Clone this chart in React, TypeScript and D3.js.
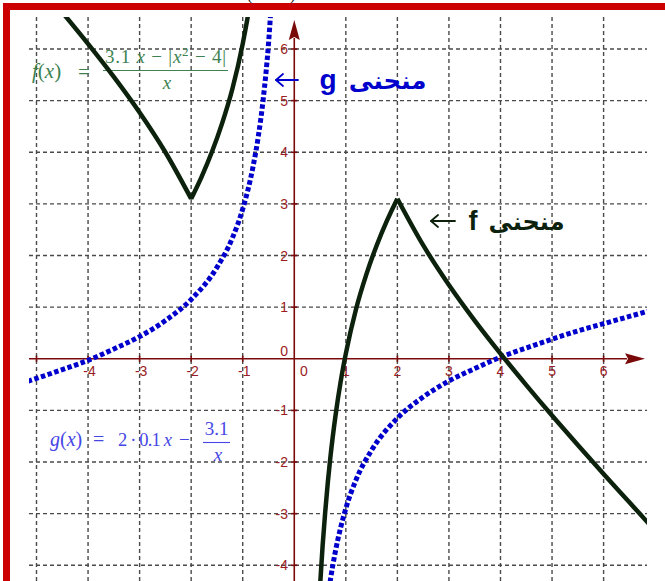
import * as d3 from "d3";

// tick values
const xTicks = [-5, -4, -3, -2, -1, 1, 2, 3, 4, 5, 6];
const yTicks = [-4, -3, -2, -1, 1, 2, 3, 4, 5, 6];
const xLabels = [-4, -3, -2, -1, 1, 2, 3, 4, 5, 6];
const yLabels = [-4, -3, -2, -1, 1, 2, 3, 4, 5, 6];

// f(x) = (3.1x - |x^2-4|)/x, split at the corners
const fLeftOuter = [[-4.5, 6.71], [-4, 6.1], [-3.5, 5.46], [-3, 4.77], [-2.5, 4.0], [-2, 3.1]];
const fLeftInner = [[-2, 3.1], [-1.8, 3.52], [-1.6, 4.0], [-1.4, 4.56], [-1.2, 5.23], [-1.0, 6.1], [-0.95, 6.36], [-0.9, 6.64], [-0.8, 7.3]];
const fRightInner = [[0.45, -5.34], [0.5, -4.4], [0.55, -3.62], [0.6, -2.97], [0.65, -2.4], [0.7, -1.91], [0.8, -1.1], [0.9, -0.44], [1.0, 0.1], [1.2, 0.97], [1.4, 1.64], [1.6, 2.2], [1.8, 2.68], [2, 3.1]];
const fRightOuter = [[2, 3.1], [2.5, 2.2], [3, 1.43], [3.5, 0.74], [4, 0.1], [4.5, -0.51], [5, -1.1], [5.5, -1.67], [6, -2.23], [6.5, -2.78], [6.9, -3.22]];

// g(x) = 0.2x - 3.1/x
const gLeft = [[-5.3, -0.48], [-4.5, -0.21], [-4, -0.03], [-3.5, 0.19], [-3, 0.43], [-2.5, 0.74], [-2, 1.15], [-1.5, 1.77], [-1.2, 2.34], [-1, 2.9], [-0.8, 3.72], [-0.7, 4.29], [-0.6, 5.05], [-0.5, 6.1], [-0.42, 7.3]];
const gRight = [[0.42, -7.3], [0.5, -6.1], [0.6, -5.05], [0.7, -4.29], [0.8, -3.72], [1, -2.9], [1.2, -2.34], [1.5, -1.77], [2, -1.15], [2.5, -0.74], [3, -0.43], [3.5, -0.19], [4, 0.03], [4.5, 0.21], [5, 0.38], [5.5, 0.54], [6, 0.68], [6.5, 0.82], [7, 0.96]];

const W = 665;
const H = 581;
const plot = { left: 29, right: 647, top: 17, bottom: 581 };

const x = d3.scaleLinear().domain([-5, 6]).range([36.5, 603.6]);
const y = d3.scaleLinear().domain([-4, 6]).range([565.3, 49]);

const line = d3
  .line<number[]>()
  .x((d) => x(d[0]))
  .y((d) => y(d[1]))
  .curve(d3.curveMonotoneX);

const axisColor = "#7a0a0a";
const labelColor = "#9b1c24";
const gridColor = "#4a4a4a";
const fColor = "#0c220c";
const gColor = "#0000cc";

// thin left-pointing arrow used next to the curve names
function LeftArrow({ x1, x2, yy, color }: { x1: number; x2: number; yy: number; color: string }) {
  return (
    <g stroke={color} strokeWidth={1.8} fill="none" strokeLinecap="round" strokeLinejoin="round">
      <line x1={x1} x2={x2} y1={yy} y2={yy} />
      <polyline points={`${x1 + 7},${yy - 6} ${x1},${yy} ${x1 + 7},${yy + 6}`} />
    </g>
  );
}

export default function App() {
  const x0 = x(0);
  const y0 = y(0);
  const serif = "'Liberation Serif', 'DejaVu Serif', serif";
  const sans = "'Liberation Sans', Arial, sans-serif";
  const arab = "'DejaVu Sans', sans-serif";

  return (
    <svg
      width={W}
      height={H}
      style={{ position: "absolute", left: 0, top: 0, display: "block", background: "#fff" }}
    >
      <defs>
        <clipPath id="plotClip">
          <rect x={plot.left} y={plot.top} width={plot.right - plot.left} height={plot.bottom - plot.top} />
        </clipPath>
      </defs>

      {/* bits of the caption above the frame */}
      <text x={247} y={0} fontFamily={serif} fontSize={16} fill="#111">(</text>
      <text x={290} y={0} fontFamily={serif} fontSize={16} fill="#111">)</text>

      {/* grid */}
      <g stroke={gridColor} strokeWidth={1.4} strokeDasharray="4,3" fill="none">
        {xTicks.map((t) => (
          <line key={"gx" + t} x1={x(t)} x2={x(t)} y1={plot.top} y2={plot.bottom} />
        ))}
        {yTicks.map((t) => (
          <line key={"gy" + t} x1={plot.left} x2={plot.right} y1={y(t)} y2={y(t)} />
        ))}
      </g>

      {/* formula f */}
      <g fill="#3d8250" fontFamily={serif}>
        <text x={32} y={78} fontSize={21}>
          <tspan fontStyle="italic">f</tspan>(<tspan fontStyle="italic">x</tspan>)
        </text>
        <text x={78} y={79} fontSize={21}>=</text>
        <text x={105} y={63} fontSize={19} textLength={121} lengthAdjust="spacing">
          3.1 <tspan fontStyle="italic">x</tspan> − |<tspan fontStyle="italic">x</tspan>
          <tspan fontSize={13} dy={-7}>2</tspan>
          <tspan dy={7}> − 4|</tspan>
        </text>
        <line x1={103} x2={228} y1={70.5} y2={70.5} stroke="#3d8250" strokeWidth={1.1} />
        <text x={167} y={89} fontSize={19} fontStyle="italic" textAnchor="middle">x</text>
      </g>

      {/* formula g */}
      <g fill="#4646e6" fontFamily={serif}>
        <text x={50} y={446} fontSize={20}>
          <tspan fontStyle="italic">g</tspan>(<tspan fontStyle="italic">x</tspan>)
        </text>
        <text x={93} y={446} fontSize={20}>=</text>
        <text x={118} y={446} fontSize={18.5} textLength={54} lengthAdjust="spacing">
          2 · 0.1 <tspan fontStyle="italic">x</tspan>
        </text>
        <text x={179} y={446} fontSize={19}>−</text>
        <text x={216.5} y={435} fontSize={19} textAnchor="middle">3.1</text>
        <line x1={203} x2={230} y1={442.5} y2={442.5} stroke="#4646e6" strokeWidth={1.1} />
        <text x={218} y={461} fontSize={19} fontStyle="italic" textAnchor="middle">x</text>
      </g>

      {/* axes */}
      <g stroke={axisColor} strokeWidth={1.6}>
        <line x1={plot.left} x2={627} y1={y0} y2={y0} />
        <line x1={x0} x2={x0} y1={plot.bottom} y2={38} />
        {xTicks.map((t) => (
          <line key={"tx" + t} x1={x(t)} x2={x(t)} y1={y0 - 3} y2={y0 + 3} />
        ))}
        {yTicks.map((t) => (
          <line key={"ty" + t} x1={x0 - 3} x2={x0 + 3} y1={y(t)} y2={y(t)} />
        ))}
      </g>
      <path d={`M645,${y0} L625,${y0 - 5.5} L628,${y0} L625,${y0 + 5.5} Z`} fill={axisColor} />
      <path d={`M${x0},20 L${x0 - 5.5},40 L${x0},37 L${x0 + 5.5},40 Z`} fill={axisColor} />

      {/* tick labels */}
      <g fill={labelColor} fontFamily={sans} fontSize={14}>
        {xLabels.map((t) => (
          <text key={"lx" + t} x={x(t) + (t < 0 ? 1.5 : 0)} y={376} textAnchor="middle">
            {String(t)}
          </text>
        ))}
        {yLabels.map((t) => (
          <text key={"ly" + t} x={288} y={y(t) + 5} textAnchor="end">
            {String(t)}
          </text>
        ))}
        <text x={288} y={356} textAnchor="end">0</text>
        <text x={300} y={376}>0</text>
      </g>

      {/* curves */}
      <g clipPath="url(#plotClip)" fill="none">
        {[gLeft, gRight].map((d, i) => (
          <path key={"g" + i} d={line(d) || ""} stroke={gColor} strokeWidth={5} strokeDasharray="4.5,2.5" />
        ))}
        {[fLeftOuter, fLeftInner, fRightInner, fRightOuter].map((d, i) => (
          <path key={"f" + i} d={line(d) || ""} stroke={fColor} strokeWidth={4.5} strokeLinejoin="round" />
        ))}
      </g>

      {/* curve names */}
      <LeftArrow x1={276} x2={298} yy={80} color={gColor} />
      <g fill={gColor}>
        <text x={328} y={89} fontFamily={sans} fontSize={28} fontWeight="bold" textAnchor="middle">g</text>
        <text x={387.5} y={89} fontFamily={arab} fontSize={24.5} fontWeight="bold" textAnchor="middle">منحنى</text>
      </g>
      <LeftArrow x1={431} x2={455} yy={221} color={fColor} />
      <g fill={fColor}>
        <text x={473} y={230} fontFamily={sans} fontSize={27} fontWeight="bold" textAnchor="middle">f</text>
        <text x={526.5} y={230} fontFamily={arab} fontSize={24} fontWeight="bold" textAnchor="middle">منحنى</text>
      </g>

      {/* frame */}
      <rect x={6.5} y={6.5} width={720} height={720} fill="none" stroke="#cc0000" strokeWidth={7} />
    </svg>
  );
}
